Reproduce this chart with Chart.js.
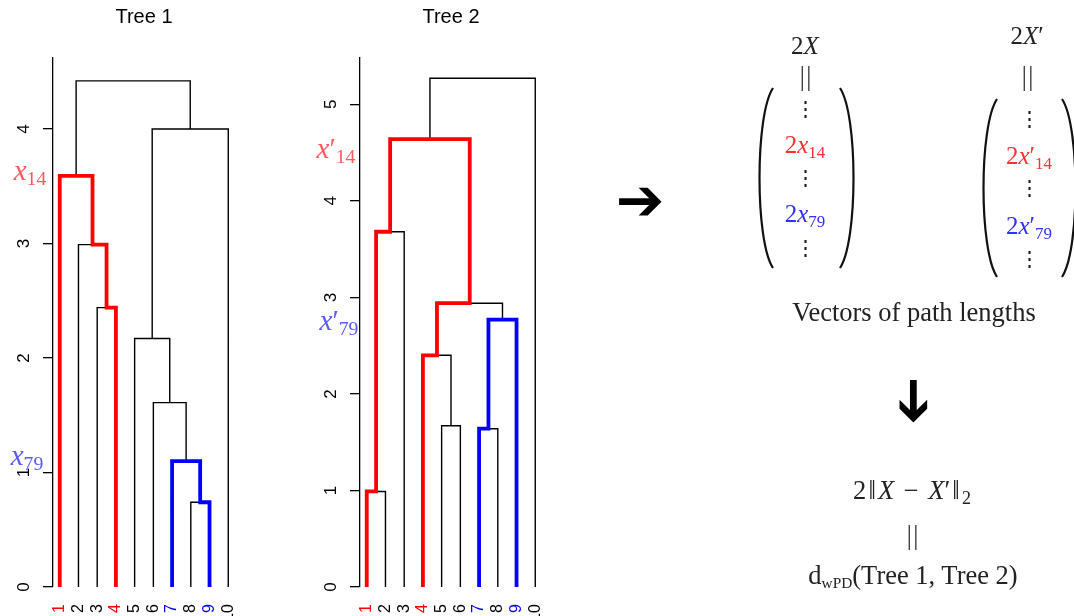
<!DOCTYPE html>
<html>
<head>
<meta charset="utf-8">
<style>
  body { margin: 0; background: #fff; }
  #wrap { position: relative; width: 1074px; height: 616px; overflow: hidden; background: #fff; }
  canvas { position: absolute; top: 0; }
  .t { position: absolute; transform: translate(-50%, -50%); white-space: nowrap; line-height: 1;
       font-family: "Liberation Serif", "DejaVu Serif", serif; color: #222; z-index: 2; }
  .t i { font-style: italic; }
  .t sub { font-size: 68%; vertical-align: -0.3em; line-height: 0; }
  .ann { font-size: 29px; }
  .m { font-size: 25px; }
  .big { font-size: 26.5px; }
  .dots { font-family: "DejaVu Serif", serif; font-size: 21px; }
  .bars { font-size: 28px; letter-spacing: 1px; color: #444; }
  .red { color: #ff3030; }
  .blue { color: #3030ff; }
  .annred { color: #ff5a5a; }
  .annblue { color: #5a5aff; }
  .arrow { font-family: "DejaVu Sans", sans-serif; font-size: 58px; color: #000; }
  .op { padding: 0 0.36em; }
  .nb { padding: 0 0.08em; }
  svg { position: absolute; left: 0; top: 0; z-index: 1; }
</style>
</head>
<body>
<div id="wrap">
  <canvas id="tree1" width="260" height="616" style="left:0px"></canvas>
  <canvas id="tree2" width="260" height="616" style="left:307px"></canvas>

  <!-- labels for the highlighted paths -->
  <div class="t ann annred" style="left:30px; top:170px"><i>x</i><sub>14</sub></div>
  <div class="t ann annblue" style="left:27px; top:455px"><i>x</i><sub>79</sub></div>
  <div class="t ann annred" style="left:336px; top:148px"><i>x</i>&#8242;<sub>14</sub></div>
  <div class="t ann annblue" style="left:339px; top:320px"><i>x</i>&#8242;<sub>79</sub></div>

  <div class="t arrow" style="left:640px; top:200px">&#10132;</div>
  <div class="t arrow" style="left:915px; top:401px; transform: translate(-50%,-50%) rotate(90deg)">&#10132;</div>

  <!-- vector 2X -->
  <div class="t m" style="left:805px; top:45px">2<i>X</i></div>
  <div class="t bars" style="left:806px; top:76px">||</div>
  <div class="t dots" style="left:805px; top:109px">&#8942;</div>
  <div class="t m red" style="left:805px; top:144px">2<i>x</i><sub>14</sub></div>
  <div class="t dots" style="left:805px; top:178px">&#8942;</div>
  <div class="t m blue" style="left:805px; top:213px">2<i>x</i><sub>79</sub></div>
  <div class="t dots" style="left:805px; top:248px">&#8942;</div>

  <!-- vector 2X' -->
  <div class="t m" style="left:1027px; top:35px">2<i>X</i>&#8242;</div>
  <div class="t bars" style="left:1028px; top:76px">||</div>
  <div class="t dots" style="left:1029px; top:119px">&#8942;</div>
  <div class="t m red" style="left:1029px; top:155px">2<i>x</i>&#8242;<sub>14</sub></div>
  <div class="t dots" style="left:1029px; top:188px">&#8942;</div>
  <div class="t m blue" style="left:1029px; top:225px">2<i>x</i>&#8242;<sub>79</sub></div>
  <div class="t dots" style="left:1029px; top:259px">&#8942;</div>

  <div class="t big" style="left:914px; top:312px">Vectors of path lengths</div>
  <div class="t big" style="left:912px; top:490px">2<span class="nb">&#8214;</span><i>X</i><span class="op">&#8722;</span><i>X</i>&#8242;<span class="nb">&#8214;</span><sub>2</sub></div>
  <div class="t bars" style="left:913px; top:535px">||</div>
  <div class="t big" style="left:913px; top:575px">d<sub style="font-size:58%">wPD</sub>(Tree 1, Tree 2)</div>

  <svg width="1074" height="616">
    <g fill="none" stroke="#111" stroke-width="2.2">
      <path d="M 773 88 C 755 115, 755 241, 773 268"/>
      <path d="M 840 88 C 858 115, 858 241, 840 268"/>
      <path d="M 997 99 C 979 126, 979 250, 997 277"/>
      <path d="M 1062 99 C 1080 126, 1080 250, 1062 277"/>
    </g>
  </svg>
</div>

<script src="https://cdn.jsdelivr.net/npm/chart.js@4.4.1/dist/chart.umd.min.js"></script>
<script>
  // leaves, in plotting order
  const leaves = ['1', '2', '3', '4', '5', '6', '7', '8', '9', '10']
  const leafColors = ['#ff0000', '#000', '#000', '#ff0000', '#000', '#000', '#0000ff', '#000', '#0000ff', '#000']

  // merges as in R hclust: negative = leaf, positive = earlier merge row
  const merges1 = [[-8, -9], [-7, 1], [-6, 2], [-5, 3], [-3, -4], [-2, 5], [-1, 6], [4, -10], [7, 8]]
  const heights1 = [0.74, 1.10, 1.61, 2.17, 2.44, 2.99, 3.59, 4.00, 4.42]
  const yTicks1 = [0, 1, 2, 3, 4]
  const yMax1 = 4.62

  const merges2 = [[-1, -2], [-7, -8], [-5, -6], [-4, 3], [2, -9], [4, 5], [1, -3], [7, 6], [8, -10]]
  const heights2 = [0.99, 1.64, 1.67, 2.40, 2.77, 2.94, 3.68, 4.64, 5.27]
  const yTicks2 = [0, 1, 2, 3, 4, 5]
  const yMax2 = 5.48

  // highlighted leaf pairs
  const redPair = [1, 4]
  const bluePair = [7, 9]

  function buildTree(merges, heights) {
    var nodeX = [], segs = []
    var xOf = id => id < 0 ? -id : nodeX[id - 1]
    var hOf = id => id < 0 ? 0 : heights[id - 1]
    merges.forEach((m, i) => {
      var h = heights[i]
      segs.push([
        {x: xOf(m[0]), y: hOf(m[0])}, {x: xOf(m[0]), y: h},
        {x: xOf(m[1]), y: h}, {x: xOf(m[1]), y: hOf(m[1])}
      ])
      nodeX.push((xOf(m[0]) + xOf(m[1])) / 2)
    })
    return {nodeX: nodeX, segs: segs, xOf: xOf, hOf: hOf}
  }

  // path between two leaves, going up to their common merge and down again
  function leafPath(merges, tree, a, b) {
    var parent = {}
    merges.forEach((m, i) => { parent[m[0]] = i + 1; parent[m[1]] = i + 1 })
    var up = id => { var c = [id]; while (parent[id] !== undefined) { id = parent[id]; c.push(id) } return c }
    var ca = up(-a), cb = up(-b)
    var lca = ca.find(n => cb.includes(n))
    var side = chain => {
      var pts = []
      for (var k = 0; chain[k] !== lca; k++) {
        var n = chain[k], p = chain[k + 1]
        pts.push({x: tree.xOf(n), y: tree.hOf(n)}, {x: tree.xOf(n), y: tree.hOf(p)})
      }
      return pts
    }
    return side(ca).concat(side(cb).reverse())
  }

  function drawTree(id, title, merges, heights, yTicks, yMax) {
    var tree = buildTree(merges, heights)
    var datasets = [
      {data: leafPath(merges, tree, redPair[0], redPair[1]), borderColor: '#ff0000', borderWidth: 3.8},
      {data: leafPath(merges, tree, bluePair[0], bluePair[1]), borderColor: '#0000ff', borderWidth: 3.8}
    ]
    tree.segs.forEach(s => datasets.push({data: s, borderColor: '#000', borderWidth: 1.4}))
    datasets.forEach(d => {
      d.showLine = true
      d.pointRadius = 0
      d.borderJoinStyle = 'miter'
      d.clip = false
    })

    return new Chart(document.getElementById(id), {
      type: 'scatter',
      data: {datasets: datasets},
      options: {
        responsive: false,
        animation: false,
        layout: {padding: {left: 0, right: 25, top: 0, bottom: 0}},
        plugins: {
          legend: {display: false},
          tooltip: {enabled: false},
          title: {
            display: true, text: title, fullSize: false, color: '#000',
            font: {family: 'Liberation Sans', size: 20, weight: 'normal'},
            padding: {top: 5, bottom: 29}
          }
        },
        scales: {
          x: {
            type: 'linear', min: 0.64, max: 10.36,
            afterBuildTicks: s => { s.ticks = leaves.map((l, i) => ({value: i + 1})) },
            afterFit: s => { s.height = 29; s.paddingLeft = 0; s.paddingRight = 0 },
            grid: {display: false, drawTicks: false},
            border: {display: false},
            ticks: {
              autoSkip: false, minRotation: 90, maxRotation: 90, padding: 17,
              font: {family: 'Liberation Sans', size: 16},
              color: c => leafColors[c.index],
              callback: (v, i) => leaves[i]
            }
          },
          y: {
            min: 0, max: yMax,
            afterBuildTicks: s => { s.ticks = yTicks.map(v => ({value: v})) },
            afterFit: s => { s.width = 53 },
            grid: {drawOnChartArea: false, drawTicks: true, tickLength: 10, color: '#000', lineWidth: 1.3},
            border: {display: true, color: '#000', width: 1.3},
            ticks: {
              minRotation: 90, maxRotation: 90, crossAlign: 'center', padding: 14,
              font: {family: 'Liberation Sans', size: 17}, color: '#000'
            }
          }
        }
      }
    })
  }

  drawTree('tree1', 'Tree 1', merges1, heights1, yTicks1, yMax1)
  drawTree('tree2', 'Tree 2', merges2, heights2, yTicks2, yMax2)
</script>
</body>
</html>
